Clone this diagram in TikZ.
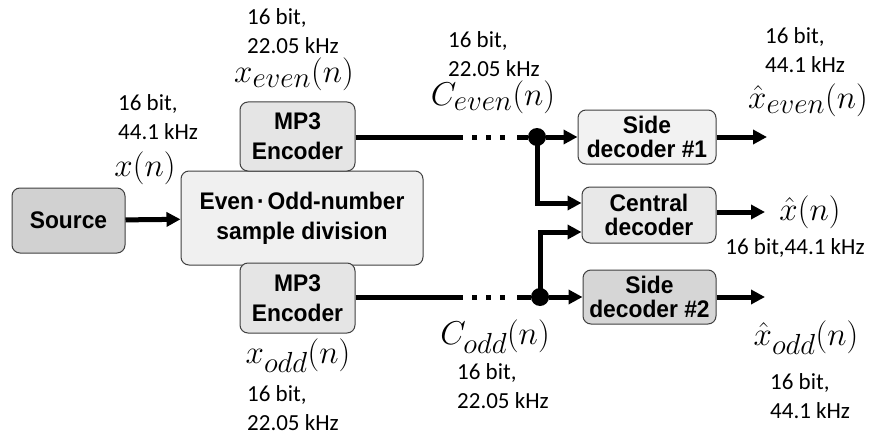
\RequirePackage{fix-cm}
\documentclass[tikz,border=0pt]{standalone}
\usepackage{fontspec}
\newfontfamily\boxfont{Liberation Sans}[FakeStretch=0.95]
\newfontfamily\labfont{Carlito}
\DeclareMathSizes{33}{33}{29}{24}
\usetikzlibrary{arrows.meta, positioning}

\tikzset{
  block/.style={draw=black!75, line width=1pt, rounded corners=8pt, align=center, inner sep=0pt,
    font=\boxfont\bfseries\fontsize{24}{30}\selectfont},
  tight/.style={font=\boxfont\bfseries\fontsize{24}{24}\selectfont},
  wire/.style={line width=5pt},
  sig/.style={wire, -{Triangle[length=14pt,width=14pt]}},
  gapdots/.style={line width=5pt, dash pattern=on 5pt off 9pt},
  junc/.style={circle, fill=black, inner sep=0pt, minimum size=18pt},
  rate/.style={font=\labfont\fontsize{23}{29}\selectfont, align=left, inner sep=0pt, anchor=west},
  sym/.style={font=\fontsize{33}{33}\selectfont, inner sep=0pt},
}

\begin{document}
\begin{tikzpicture}[x=1pt, y=-1pt]

\useasboundingbox[fill=white] (0,0) rectangle (876,444);

% blocks
\node[block, fill=black!18, minimum width=113pt, minimum height=65pt] (src) at (68.5,220.5) {Source};
\node[block, fill=black!6, minimum width=242pt, minimum height=94pt] (div) at (302,218) {Even\kern3pt·\kern3pt Odd-number\\sample division};
\node[block, fill=black!10, minimum width=115pt, minimum height=69pt] (enc1) at (297.5,136.5) {MP3\\Encoder};
\node[block, fill=black!10, minimum width=115pt, minimum height=70pt] (enc2) at (297.5,298) {MP3\\Encoder};
\node[block, tight, fill=black!5, minimum width=138pt, minimum height=54pt] (dec1) at (647,137) {Side\\decoder \#1};
\node[block, tight, fill=black!9, minimum width=134pt, minimum height=56pt] (cen) at (649,215) {Central\\decoder};
\node[block, tight, fill=black!16, minimum width=133pt, minimum height=54pt] (dec2) at (649.5,297) {Side\\decoder \#2};

% junctions and free ends
\node[junc] (j1) at (537,137) {};
\node[junc] (j2) at (540,297) {};
\coordinate (a1) at (463,137);
\coordinate (b1) at (517,137);
\coordinate (a2) at (463,297);
\coordinate (b2) at (517,297);
\coordinate (o1) at (767,137);
\coordinate (o2) at (765,212);
\coordinate (o3) at (765,297);

% connectors
\draw[sig] (src) -- (div);
\draw[wire] (enc1.east |- a1) -- (a1);
\draw[gapdots] ([xshift=9pt]a1) -- ([xshift=-12pt]b1);
\draw[wire] (b1) -- (j1);
\draw[wire] (enc2.east |- a2) -- (a2);
\draw[gapdots] ([xshift=9pt]a2) -- ([xshift=-12pt]b2);
\draw[wire] (b2) -- (j2);
\draw[sig] (j1) -- (dec1);
\draw[sig] (j2) -- (dec2);
\draw[sig] (j1.center) |- ([yshift=12pt]cen.west);
\draw[sig] (j2.center) |- ([yshift=-17pt]cen.west);
\draw[sig] (dec1.east |- o1) -- (o1);
\draw[sig] (cen.east |- o2) -- (o2);
\draw[sig] (dec2.east |- o3) -- (o3);

% signals
\node[sym] (xn) at (145,168) {$x(n)$};
\node[sym] (xe) at (294,74) {$x_{even}(n)$};
\node[sym] (xo) at (298,356) {$x_{odd}(n)$};
\node[sym] (ce) at (493,97) {$C_{even}(n)$};
\node[sym] (co) at (495,337) {$C_{odd}(n)$};
\node[sym] (he) at (808,100) {$\hat{x}_{even}(n)$};
\node[sym] (hx) at (810,212) {$\hat{x}(n)$};
\node[sym] (ho) at (806,338) {$\hat{x}_{odd}(n)$};

% bit depth and rate
\node[rate] (rxn) at (118,117) {16 bit,\\44.1 kHz};
\node[rate] (rxe) at (247,31) {16 bit,\\22.05 kHz};
\node[rate] (rce) at (448,54) {16 bit,\\22.05 kHz};
\node[rate] (rhe) at (765,50) {16 bit,\\44.1 kHz};
\node[rate, anchor=center] (rhx) at (795,248) {16 bit,44.1 kHz};
\node[rate] (rco) at (457,386) {16 bit,\\22.05 kHz};
\node[rate] (rxo) at (247,408) {16 bit,\\22.05 kHz};
\node[rate] (rho) at (770,396) {16 bit,\\44.1 kHz};

\end{tikzpicture}
\end{document}
